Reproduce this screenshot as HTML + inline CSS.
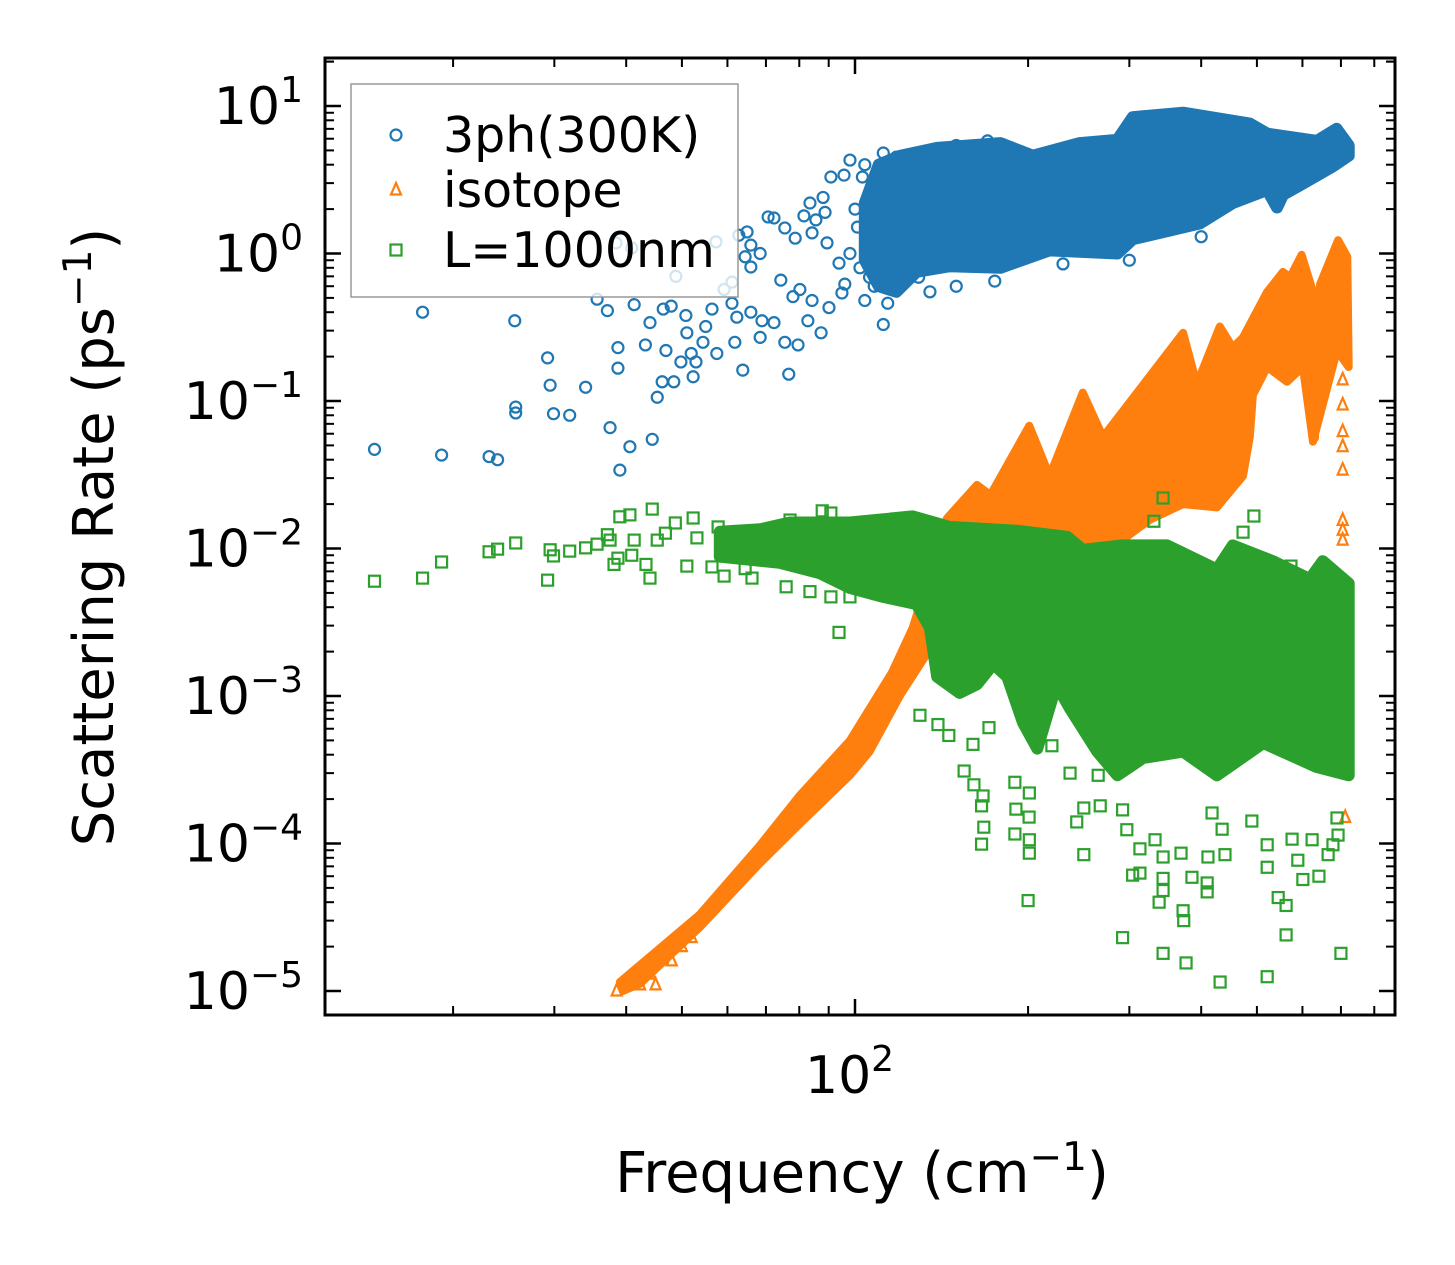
<!DOCTYPE html>
<html><head><meta charset="utf-8"><style>
html,body{margin:0;padding:0;background:#fff;}
svg{display:block;font-family:"DejaVu Sans","Liberation Sans",sans-serif;}
</style></head><body>
<svg id="chart" width="1455" height="1265" viewBox="0 0 1455 1265" xmlns="http://www.w3.org/2000/svg">
<defs><clipPath id="plotclip"><rect x="325" y="58" width="1070" height="957"/></clipPath></defs>
<rect x="0" y="0" width="1455" height="1265" fill="#fff"/>
<g id="series" clip-path="url(#plotclip)"></g>
<g id="axes"></g>
<g id="legend"></g>
</svg>
<script>
// ---- data (frequency cm^-1, rate ps^-1) ----
const blueSparse = [[14.6,.047],[19.1,.043],[23.1,.042],[23.9,.040],[17.7,.40],[25.6,.35],[29.2,.196],[29.5,.128],[25.7,.091],[25.7,.083],[29.9,.082],[31.9,.080],[34.0,.124],[37.5,.066],[39.0,.034],[40.6,.049],[44.4,.055],[45.3,.106],[38.7,.167],[38.7,.23],[43.2,.24],[46.9,.22],[35.6,.49],[37.1,.41],[41.3,.45],[44.0,.34],[46.4,.42],[47.9,.44],[50.8,.38],[49.8,.184],[52.9,.184],[52.3,.146],[46.2,.135],[48.4,.135],[51.9,.21],[51.0,.29],[54.4,.25],[55.0,.32],[57.5,.21],[61.8,.25],[63.8,.162],[76.7,.152],[56.4,.42],[61.1,.46],[62.3,.37],[65.9,.40],[68.9,.35],[72.3,.34],[68.4,.27],[75.5,.25],[79.6,.24],[82.8,.35],[87.3,.29],[78.0,.51],[80.2,.57],[84.2,.48],[90.1,.43],[94.9,.54],[74.3,.66],[65.9,.81],[64.4,.95],[68.4,1.0],[65.9,1.14],[62.8,1.33],[64.9,1.40],[70.6,1.77],[72.3,1.74],[75.5,1.49],[78.7,1.27],[81.5,1.8],[83.5,2.2],[88.0,2.4],[88.7,1.9],[85.5,1.69],[84.2,1.38],[90.8,3.3],[95.7,3.4],[98.0,4.3],[103,3.3],[104,4.0],[111,3.9],[112,4.8],[118,4.5],[112,.33],[114,.46],[104,.48],[93.8,.86],[89.4,1.18],[101,1.51],[116,1.51],[106,.69],[122,1.11],[129,.69],[125,.81],[38.4,1.18],[40.9,1.09],[48.8,.70],[57.3,1.2],[59.2,.57],[61.1,.64],[98,1.0],[102,.8],[108,.6],[96,.62],[100,2.0],[107,2.6],[110,1.2],[120,.6],[135,.55],[150,.6],[175,.65],[230,.85],[300,.9],[400,1.3],[130,4.4],[150,5.4],[170,5.8]];
const blueUpper = [[104,2.2],[110,4.0],[120,4.6],[139,5.2],[179,5.6],[204,4.6],[246,5.6],[286,5.9],[304,8.4],[372,9.0],[486,7.6],[521,6.5],[636,5.8],[688,7.0],[722,5.4]];
const blueLower = [[722,4.6],[678,3.9],[594,2.9],[555,2.5],[542,2.05],[521,2.7],[454,2.2],[398,1.6],[304,1.25],[286,1.0],[218,1.05],[179,0.8],[146,0.82],[128,0.75],[118,0.55],[110,0.6],[104,0.9]];
const orangeUpper = [[39.0,1.15e-5],[53.7,3.3e-5],[68,9.5e-5],[80,2.1e-4],[98,5.0e-4],[116,1.45e-3],[126,2.9e-3],[144.5,.0160],[163,.027],[172,.023],[201,.068],[218,.031],[249,.114],[270,.057],[309,.113],[372,.29],[393,.13],[431,.32],[454,.23],[473,.27],[521,.55],[555,.75],[571,.69],[598,.98],[626,.55],[631,.056],[644,.62],[692,1.23],[718,.95],[722,.17]];
const orangeLower = [[689,.22],[626,.053],[601,.17],[564,.135],[521,.17],[492,.11],[486,.057],[473,.031],[426,.019],[372,.020],[326,.0157],[286,.0108],[267,.0098],[179,.0088],[157,.0088],[133,.0019],[120,.00102],[106,4.2e-4],[98,2.9e-4],[80,1.35e-4],[68,7.2e-5],[53.7,2.7e-5],[42.3,1.12e-5],[39.5,1.0e-5]];
const orangeSparse = [[38.5,1.0e-5],[40,1.1e-5],[42.3,1.1e-5],[44,1.3e-5],[45,1.1e-5],[48,1.6e-5],[50,2.0e-5],[52,2.3e-5],[705,.139],[705,.094],[705,.062],[705,.049],[705,.034],[705,.0155],[705,.0133],[705,.0114],[712,1.5e-4]];
const greenSparse = [[14.6,.0060],[17.7,.0063],[19.1,.0081],[23.1,.0095],[23.9,.0099],[25.7,.0109],[29.5,.0098],[29.9,.0089],[29.2,.0061],[31.9,.0096],[34.0,.0101],[35.6,.0107],[37.1,.0124],[37.5,.0114],[39.0,.0164],[40.6,.0169],[44.4,.0185],[38.1,.0078],[38.7,.0086],[41.3,.0114],[40.9,.0090],[43.3,.0078],[44.0,.0063],[45.3,.0114],[46.8,.0127],[48.7,.0149],[52.3,.0161],[51.0,.0076],[53.1,.0118],[57.8,.0140],[56.4,.0075],[59.2,.0065],[64.4,.0073],[66.2,.0063],[75.9,.0055],[83.5,.0051],[90.8,.0047],[93.8,.0027],[77.1,.0156],[87.7,.0180],[90.8,.0174],[98,.0047],[129.7,.00074],[139.4,.00064],[145.6,.00054],[154.8,.00031],[161,.00025],[167,.00021],[166,.00018],[167.5,.000129],[166,.000099],[171,.00061],[160.4,.00047],[200,.000041],[190.5,.000171],[189.7,.000116],[201,.000106],[201,.000086],[200.8,.000151],[201,.00022],[189.7,.00026],[220,.00046],[236.6,.00030],[243,.000140],[250,.000084],[250,.000174],[264.8,.00029],[267,.00018],[292,.000023],[292,.000169],[297,.000124],[304,.000061],[313,.000063],[313,.000092],[332.5,.000106],[338,.000040],[343.4,.000018],[343.4,.000058],[343.4,.000048],[343.4,.000081],[372,.000035],[373,.000030],[376.5,.0000155],[369,.000086],[385.5,.000059],[409.7,.000054],[409.7,.000047],[431.5,.0000115],[411,.000081],[440,.000084],[435,.000125],[417.8,.000161],[490,.000142],[521,.000098],[521,.000069],[521,.0000125],[544.5,.000043],[562,.000038],[562,.000024],[589,.000077],[601,.000057],[641,.000060],[665,.000084],[678,.000098],[692,.000114],[700,.000018],[689,.000149],[623.7,.000106],[575.6,.000107],[343.4,.022],[331,.0153],[494,.0166],[473,.0129],[573,.0076]];
const greenUpper = [[58.2,.0130],[68.4,.0135],[77.1,.0150],[98,.0150],[126,.0165],[146,.0140],[191,.0132],[234,.0120],[249,.0098],[292,.0105],[349,.0105],[426,.0072],[454,.0105],[533,.0082],[618,.0062],[651,.0082],[722,.0058]];
const greenLower = [[722,.00029],[635,.00033],[513,.00048],[426,.00029],[372,.00042],[317,.00038],[286,.00029],[264,.00042],[236.6,.00082],[224,.0012],[207.5,.00044],[196,.00066],[184,.00135],[174,.00165],[163,.0012],[152,.00105],[139,.00135],[135,.0029],[128,.0042],[112,.0047],[98,.0054],[86.9,.0068],[74,.0080],[58.2,.0088]];
const yDecades = [1,0,-1,-2,-3,-4,-5];
const xMajor = [100];
const xMinor = [20,30,40,50,60,70,80,90,200,300,400,500,600,700,800];
const legendLabels = ["3ph(300K)","isotope","L=1000nm"];

// ---- scales ----
const L=325,R=1395,T=58,B=1015;
const X = f => 855 + 575*Math.log10(f/100);
const Y = v => 106 - 147.5*(Math.log10(v)-1);
const NS="http://www.w3.org/2000/svg";
const C={b:"#1f77b4",o:"#ff7f0e",g:"#2ca02c"};
function mk(tag,attrs,parent){const e=document.createElementNS(NS,tag);for(const k in attrs)e.setAttribute(k,attrs[k]);parent.appendChild(e);return e;}
const S=document.getElementById('series');

function band(up,low,col,name,sw){
  const pts=up.concat(low).map(p=>X(p[0]).toFixed(1)+','+Y(p[1]).toFixed(1)).join(' ');
  const p=mk('polygon',{points:pts,fill:col,stroke:col,'stroke-width':sw,'stroke-linejoin':'round'},S);
  
  
}
function circle(f,v,g){const e=mk('circle',{cx:X(f),cy:Y(v),r:5.5,fill:'none',stroke:C.b,'stroke-width':2.2},g);
  
  }
function tri(f,v,g){const x=X(f),y=Y(v);const e=mk('polygon',{points:`${x},${y-7} ${x-5},${y+4.5} ${x+5},${y+4.5}`,fill:'none',stroke:C.o,'stroke-width':2.2},g);
  
  }
function sq(f,v,g){const e=mk('rect',{x:X(f)-5.5,y:Y(v)-5.5,width:11,height:11,fill:'none',stroke:C.g,'stroke-width':2.2},g);
  
  }

const gB=mk('g',{},S);  
band(blueUpper,blueLower,C.b,'dense-3ph-cloud',12);
blueSparse.forEach(p=>circle(p[0],p[1],gB));
const gO=mk('g',{},S);  
band(orangeUpper,orangeLower,C.o,'dense-isotope-cloud',8);
orangeSparse.forEach(p=>tri(p[0],p[1],gO));
const gG=mk('g',{},S);  
band(greenUpper,greenLower,C.g,'dense-boundary-cloud',12);
greenSparse.forEach(p=>sq(p[0],p[1],gG));

// ---- axes ----
const A=document.getElementById('axes');
const frame=mk('rect',{x:L,y:T,width:R-L,height:B-T,fill:'none',stroke:'#000','stroke-width':3},A);


function tick(x1,y1,x2,y2,w){mk('line',{x1,y1,x2,y2,stroke:'#000','stroke-width':w},A);}
yDecades.forEach(d=>{
  const y=Y(Math.pow(10,d));
  tick(L,y,L+16,y,2.5); tick(R,y,R-16,y,2.5);
  const t=mk('text',{x:303,y:y+18,'text-anchor':'end','font-size':52,fill:'#000'},A);
  
  
  t.textContent='10';
  const s=mk('tspan',{dy:-22,'font-size':36},t);
  s.textContent=(d<0?'\u2212'+(-d):String(d));
  for(let m=2;m<=9;m++){const yy=Y(m*Math.pow(10,d));if(yy>=T&&yy<=B){tick(L,yy,L+9,yy,2);tick(R,yy,R-9,yy,2);}}
});
for(let m=2;m<=9;m++){const yy=Y(m*10);if(yy>=T){tick(L,yy,L+9,yy,2);tick(R,yy,R-9,yy,2);}}
xMajor.forEach(v=>{const x=X(v);tick(x,B,x,B-16,2.5);tick(x,T,x,T+16,2.5);
  const t=mk('text',{x:x-50,y:1093,'font-size':52,fill:'#000'},A);
  
  
  t.textContent='10';
  const s=mk('tspan',{dy:-22,'font-size':36},t); s.textContent='2';});
xMinor.forEach(v=>{const x=X(v);tick(x,B,x,B-9,2);tick(x,T,x,T+9,2);});
const xt=mk('text',{x:862,y:1192,'text-anchor':'middle','font-size':56,fill:'#000'},A);


xt.textContent='Frequency (cm';
const xs=mk('tspan',{dy:-22,'font-size':39},xt); xs.textContent='\u22121';
const xs2=mk('tspan',{dy:22},xt); xs2.textContent=')';
const yt=mk('text',{x:0,y:0,'text-anchor':'middle','font-size':56,fill:'#000',transform:'translate(113,537) rotate(-90)'},A);


yt.textContent='Scattering Rate (ps';
const ys=mk('tspan',{dy:-22,'font-size':39},yt); ys.textContent='\u22121';
const ys2=mk('tspan',{dy:22},yt); ys2.textContent=')';

// ---- legend ----
const G=document.getElementById('legend');
const lb=mk('rect',{x:351,y:84,width:387,height:213,fill:'#fff','fill-opacity':0.8,stroke:'#999','stroke-width':1.5},G);


const ly=[135,190,250];
legendLabels.forEach((lab,i)=>{
  const y=ly[i];
  if(i===0){const e=mk('circle',{cx:396,cy:y,r:5.5,fill:'none',stroke:C.b,'stroke-width':2.2},G);}
  if(i===1){const e=mk('polygon',{points:`396,${y-7} 391,${y+4.5} 401,${y+4.5}`,fill:'none',stroke:C.o,'stroke-width':2.2},G);}
  if(i===2){const e=mk('rect',{x:390.5,y:y-5.5,width:11,height:11,fill:'none',stroke:C.g,'stroke-width':2.2},G);}
  const t=mk('text',{x:443,y:y+17,'font-size':49,fill:'#000'},G);
  
  
  t.textContent=lab;
});
</script>
</body></html>
